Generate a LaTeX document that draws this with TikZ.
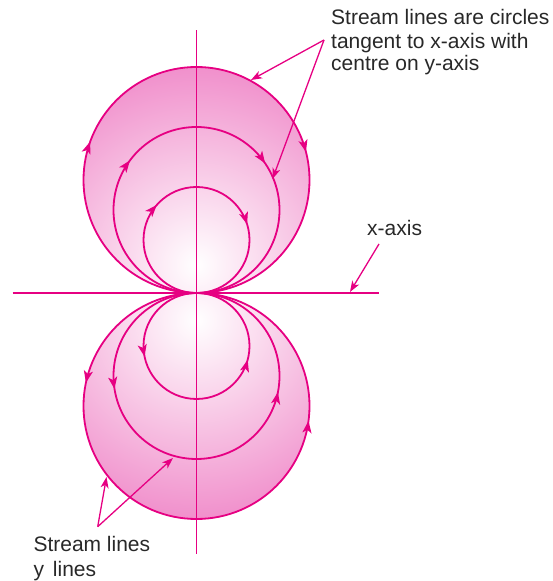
\documentclass[tikz,border=0pt]{standalone}
\usepackage{fontspec}
\setmainfont{Liberation Sans}
\usetikzlibrary{arrows.meta,decorations.markings}
\definecolor{mag}{RGB}{230,0,130}
\definecolor{pk}{RGB}{240,140,202}
\definecolor{txt}{RGB}{40,40,40}
\begin{document}
\begin{tikzpicture}[x=1pt,y=1pt,
  >={Stealth[length=12pt,width=9pt,inset=3pt]},
  flow/.style={draw=mag, line width=1.8pt},
  axisline/.style={draw=mag, line width=1.3pt},
  pointer/.style={draw=mag, line width=1.3pt, -{Stealth[length=11pt,width=8pt,inset=3pt]}},
  lbl/.style={anchor=base west, inner sep=0pt, text=txt, font=\fontsize{21}{23.5}\selectfont},
  marks/.style 2 args={postaction={decorate}, decoration={markings,
     mark=at position #1 with {\arrow{>}},
     mark=at position #2 with {\arrow{>}}}}
]
\useasboundingbox (0,0) rectangle (553,581);

% shaded discs
\begin{scope}
  \clip (196.5,401) circle (113);
  \shade[inner color=white, outer color=pk] (196.5,316) circle (205);
\end{scope}
\begin{scope}
  \clip (196.5,175) circle (113);
  \shade[inner color=white, outer color=pk] (196.5,261) circle (205);
\end{scope}

% axes
\coordinate (O) at (196.5,288);
\coordinate (yt) at (196.5,551);
\coordinate (yb) at (196.5,27);
\coordinate (xl) at (12.5,288);
\coordinate (xr) at (379,288);
\draw[axisline] (yb) -- (yt);
\draw[axisline] (xl) -- (xr);

% upper stream lines (clockwise)
\path[flow, marks={0.305}{0.710}] (O) arc[start angle=270, end angle=-90, radius=113];
\path[flow, marks={0.352}{0.655}] (O) arc[start angle=270, end angle=-90, radius=83];
\path[flow, marks={0.365}{0.702}] (O) arc[start angle=270, end angle=-90, radius=53];

% lower stream lines (counter-clockwise)
\path[flow, marks={0.217}{0.729}] (O) arc[start angle=90, end angle=450, radius=113];
\path[flow, marks={0.275}{0.719}] (O) arc[start angle=90, end angle=450, radius=83];
\path[flow, marks={0.282}{0.708}] (O) arc[start angle=90, end angle=450, radius=53];

% labels
\node[lbl] (t1) at (331,556) {Stream lines are circles};
\node[lbl] (t2) at (331,532.7) {tangent to x-axis with};
\node[lbl] (t3) at (331,510) {centre on y-axis};
\node[lbl] (xa) at (367,345) {x-axis};
\node[lbl] (b1) at (33.3,29.3) {Stream lines};
\node[lbl] (b2) at (33.3,4.3) {y\hspace{9pt}lines};

% pointers
\coordinate (J1) at (324,541);
\coordinate (A) at (251,501);
\coordinate (B) at (272.5,402);
\draw[pointer] (J1) -- (A);
\draw[pointer] (J1) -- (B);
\coordinate (XS) at (379,337);
\coordinate (XT) at (350,289);
\draw[pointer] (XS) -- (XT);
\coordinate (J2) at (97.7,54.3);
\coordinate (C) at (106.5,104);
\coordinate (D) at (173,123);
\draw[pointer] (J2) -- (C);
\draw[pointer] (J2) -- (D);
\end{tikzpicture}
\end{document}
